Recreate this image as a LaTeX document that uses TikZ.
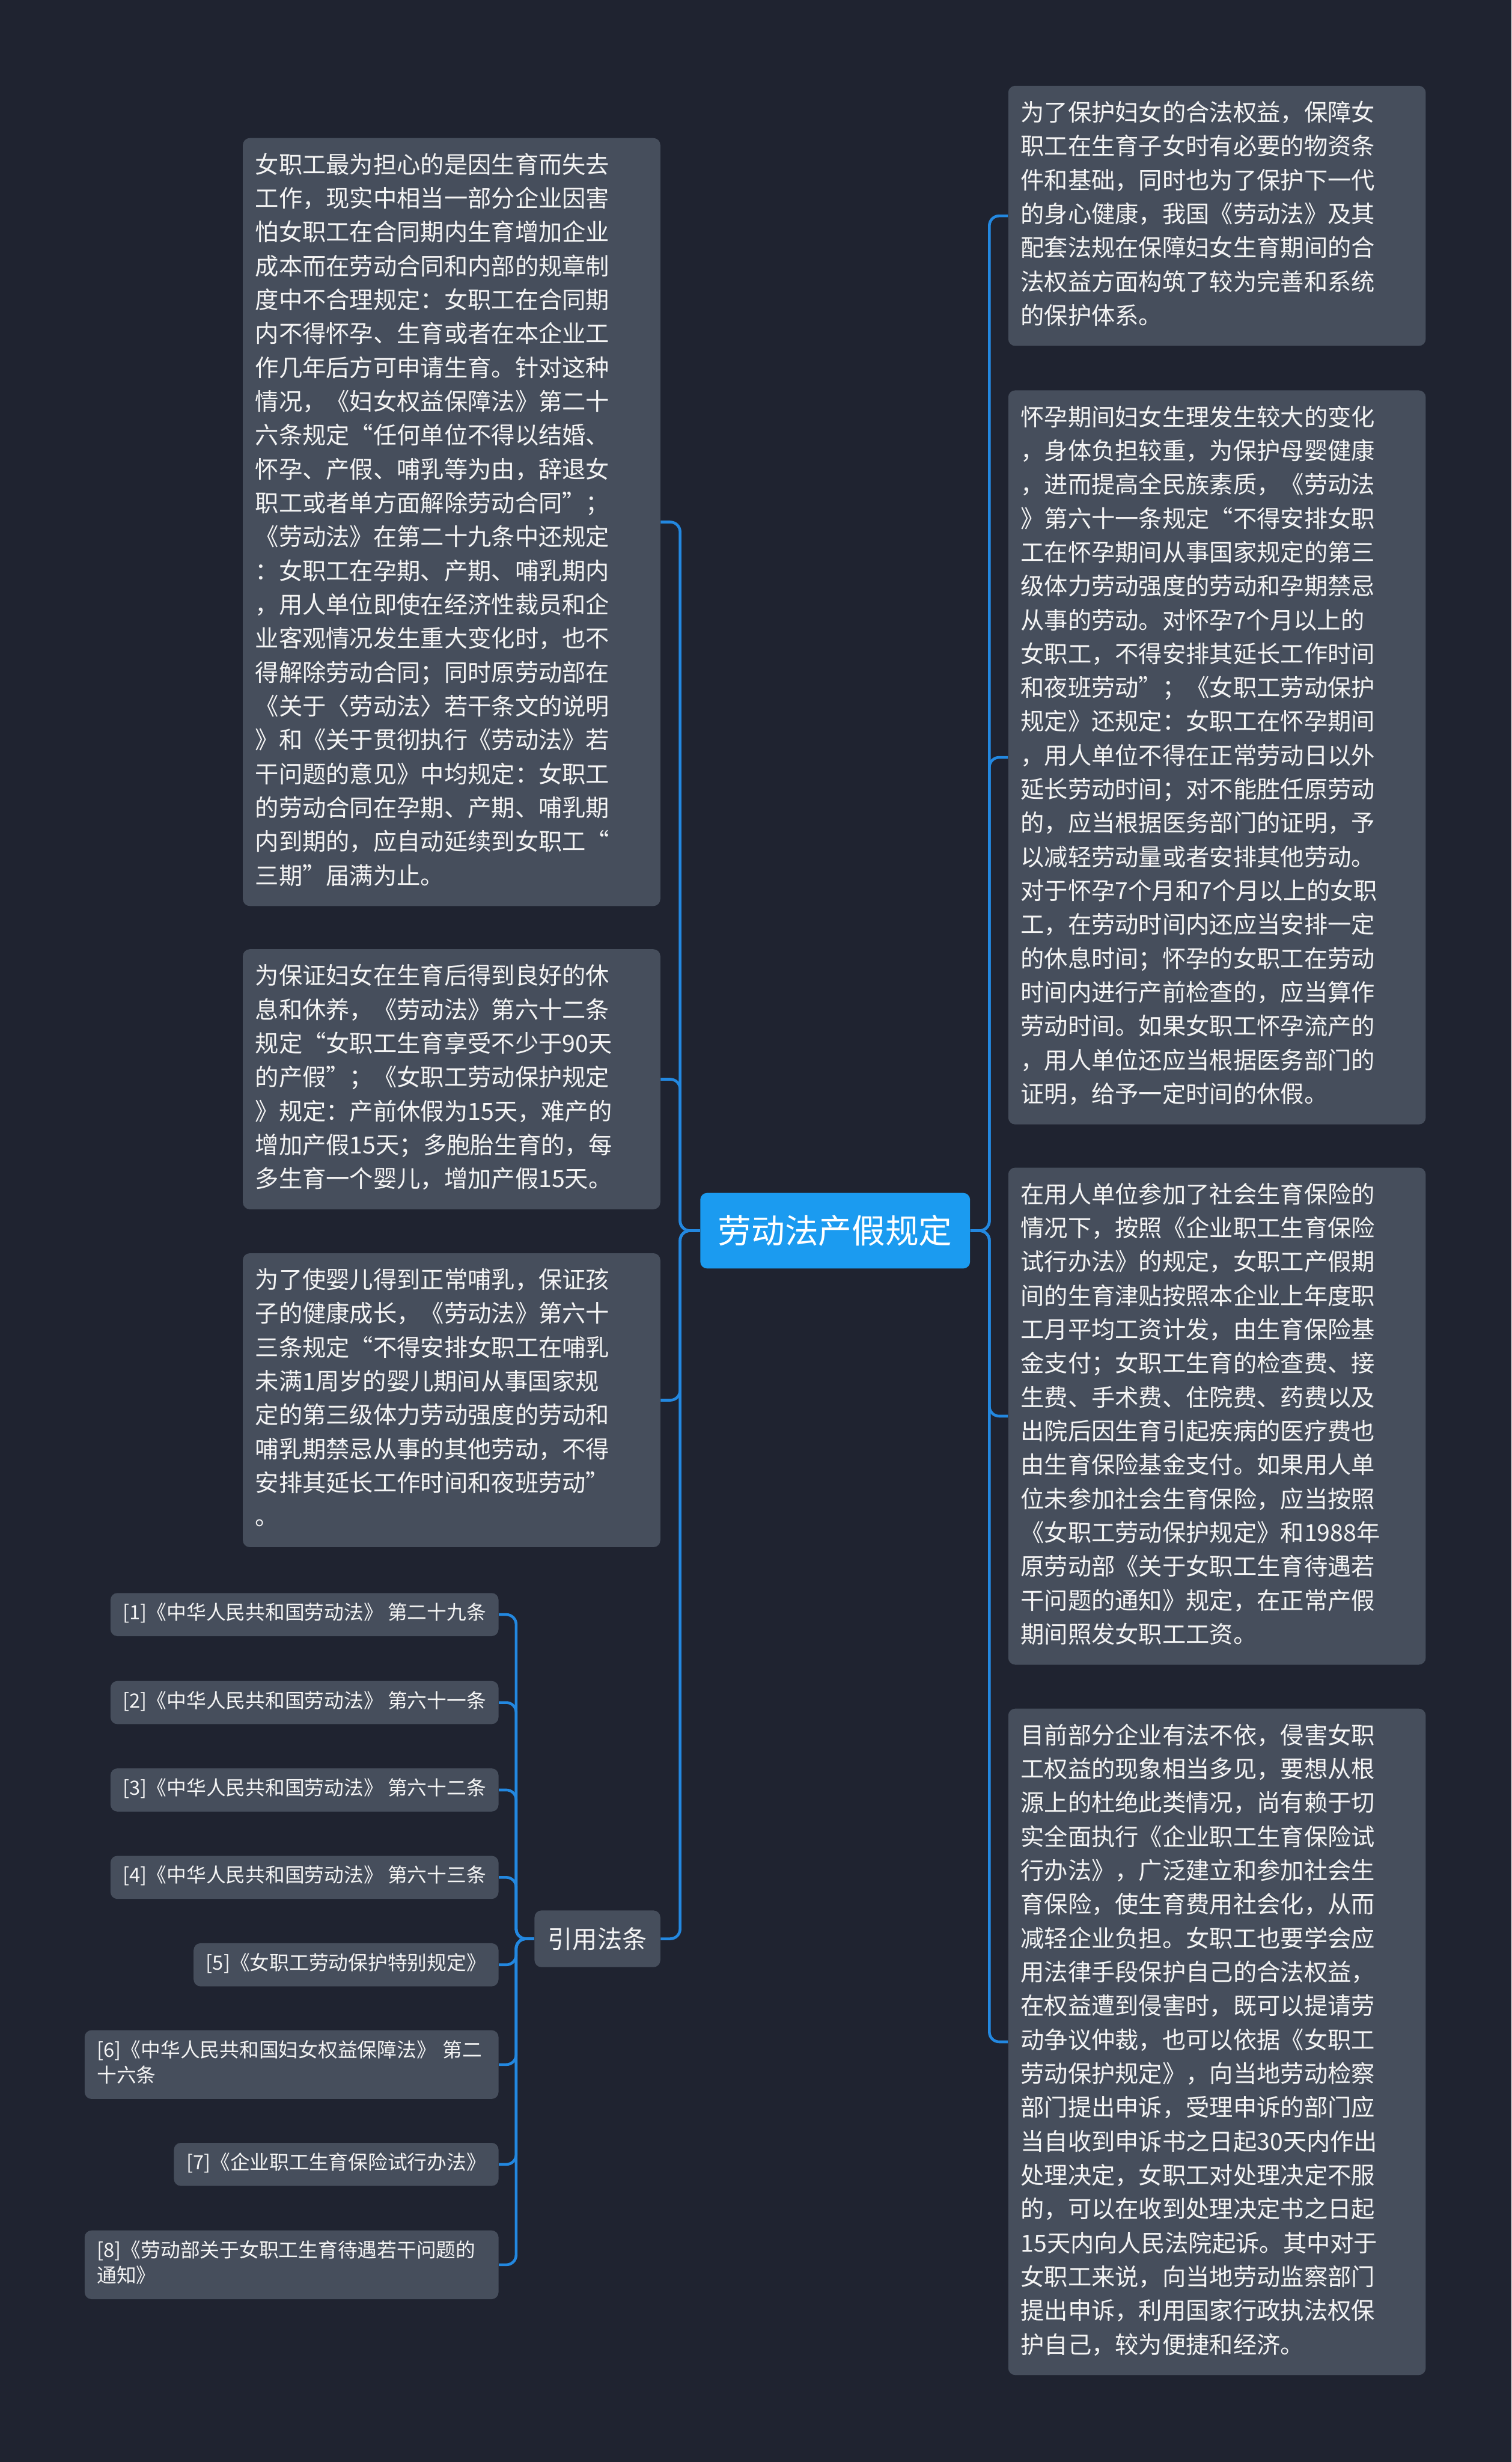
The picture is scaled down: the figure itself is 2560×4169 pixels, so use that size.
\documentclass[tikz,border=0pt]{standalone}
\usepackage{fontspec}
\setmainfont{Noto Sans CJK SC}
\definecolor{bgnavy}{HTML}{1F2330}
\definecolor{cardgray}{HTML}{464E5C}
\definecolor{linkblue}{HTML}{2388E0}
\definecolor{hubblue}{HTML}{1B9BF0}
\definecolor{inkwhite}{HTML}{F4F4F4}

\begin{document}
\begin{tikzpicture}[x=0.3pt, y=-0.3pt,
  card/.style={fill=cardgray, text=inkwhite, rounded corners=3.5pt,
    align=left, text width=199.5pt, inner xsep=6.3pt, inner ysep=5.85pt,
    font=\fontsize{12}{17.2}\selectfont,
    execute at begin node=\strut, execute at end node=\strut},
  hub/.style={fill=hubblue, text=white, rounded corners=3.5pt,
    minimum width=137.1pt, minimum height=38.4pt, inner sep=0pt,
    font=\fontsize{17}{20}\selectfont},
  headbox/.style={fill=cardgray, text=inkwhite, rounded corners=3.5pt,
    minimum width=63.9pt, minimum height=28.8pt, inner sep=0pt,
    font=\fontsize{12.6}{15}\selectfont},
  cite/.style={fill=cardgray, text=inkwhite, rounded corners=3.5pt,
    inner xsep=6.3pt, inner ysep=4.45pt, text height=9.1pt, text depth=3.9pt,
    font=\fontsize{10}{13}\selectfont, anchor=east},
  citewrap/.style={fill=cardgray, text=inkwhite, rounded corners=3.5pt,
    align=left, text width=197.7pt, inner xsep=6.3pt, inner ysep=4.45pt,
    font=\fontsize{10}{13}\selectfont, anchor=east,
    execute at begin node=\strut, execute at end node=\strut},
  wire/.style={draw=linkblue, line width=1.4pt, rounded corners=5pt}]

  \fill[bgnavy] (0,0) rectangle (2560,4169);

  \node[hub] (topic) at (1414.5,2084) {劳动法产假规定};

  % left side
  \node[card, anchor=east] (lfire) at (1119,884) {女职工最为担心的是因生育而失去\\
    工作，现实中相当一部分企业因害\\
    怕女职工在合同期内生育增加企业\\
    成本而在劳动合同和内部的规章制\\
    度中不合理规定：女职工在合同期\\
    内不得怀孕、生育或者在本企业工\\
    作几年后方可申请生育。针对这种\\
    情况，《妇女权益保障法》第二十\\
    六条规定“任何单位不得以结婚、\\
    怀孕、产假、哺乳等为由，辞退女\\
    职工或者单方面解除劳动合同”；\\
    《劳动法》在第二十九条中还规定\\
    ：女职工在孕期、产期、哺乳期内\\
    ，用人单位即使在经济性裁员和企\\
    业客观情况发生重大变化时，也不\\
    得解除劳动合同；同时原劳动部在\\
    《关于〈劳动法〉若干条文的说明\\
    》和《关于贯彻执行《劳动法》若\\
    干问题的意见》中均规定：女职工\\
    的劳动合同在孕期、产期、哺乳期\\
    内到期的，应自动延续到女职工“\\
    三期”届满为止。};
  \node[card, anchor=east] (lleave) at (1119,1827.5) {为保证妇女在生育后得到良好的休\\
    息和休养，《劳动法》第六十二条\\
    规定“女职工生育享受不少于90天\\
    的产假”；《女职工劳动保护规定\\
    》规定：产前休假为15天，难产的\\
    增加产假15天；多胞胎生育的，每\\
    多生育一个婴儿，增加产假15天。};
  \node[card, anchor=east] (lnurse) at (1119,2371) {为了使婴儿得到正常哺乳，保证孩\\
    子的健康成长，《劳动法》第六十\\
    三条规定“不得安排女职工在哺乳\\
    未满1周岁的婴儿期间从事国家规\\
    定的第三级体力劳动强度的劳动和\\
    哺乳期禁忌从事的其他劳动，不得\\
    安排其延长工作时间和夜班劳动”\\
    。};
  \node[headbox, anchor=east] (cites) at (1119,3283) {引用法条};

  \node[cite] (c1) at (845,2734) {[1]《中华人民共和国劳动法》 第二十九条};
  \node[cite] (c2) at (845,2883) {[2]《中华人民共和国劳动法》 第六十一条};
  \node[cite] (c3) at (845,3031) {[3]《中华人民共和国劳动法》 第六十二条};
  \node[cite] (c4) at (845,3179) {[4]《中华人民共和国劳动法》 第六十三条};
  \node[cite] (c5) at (845,3327) {[5]《女职工劳动保护特别规定》};
  \node[citewrap] (c6) at (845,3496) {[6]《中华人民共和国妇女权益保障法》 第二\\十六条};
  \node[cite] (c7) at (845,3665) {[7]《企业职工生育保险试行办法》};
  \node[citewrap] (c8) at (845,3835) {[8]《劳动部关于女职工生育待遇若干问题的\\通知》};

  % right side
  \node[card, anchor=west] (rprotect) at (1707,365.5) {为了保护妇女的合法权益，保障女\\
    职工在生育子女时有必要的物资条\\
    件和基础，同时也为了保护下一代\\
    的身心健康，我国《劳动法》及其\\
    配套法规在保障妇女生育期间的合\\
    法权益方面构筑了较为完善和系统\\
    的保护体系。};
  \node[card, anchor=west] (rpreg) at (1707,1282.5) {怀孕期间妇女生理发生较大的变化\\
    ，身体负担较重，为保护母婴健康\\
    ，进而提高全民族素质，《劳动法\\
    》第六十一条规定“不得安排女职\\
    工在怀孕期间从事国家规定的第三\\
    级体力劳动强度的劳动和孕期禁忌\\
    从事的劳动。对怀孕7个月以上的\\
    女职工，不得安排其延长工作时间\\
    和夜班劳动”；《女职工劳动保护\\
    规定》还规定：女职工在怀孕期间\\
    ，用人单位不得在正常劳动日以外\\
    延长劳动时间；对不能胜任原劳动\\
    的，应当根据医务部门的证明，予\\
    以减轻劳动量或者安排其他劳动。\\
    对于怀孕7个月和7个月以上的女职\\
    工，在劳动时间内还应当安排一定\\
    的休息时间；怀孕的女职工在劳动\\
    时间内进行产前检查的，应当算作\\
    劳动时间。如果女职工怀孕流产的\\
    ，用人单位还应当根据医务部门的\\
    证明，给予一定时间的休假。};
  \node[card, anchor=west] (rinsure) at (1707,2398) {在用人单位参加了社会生育保险的\\
    情况下，按照《企业职工生育保险\\
    试行办法》的规定，女职工产假期\\
    间的生育津贴按照本企业上年度职\\
    工月平均工资计发，由生育保险基\\
    金支付；女职工生育的检查费、接\\
    生费、手术费、住院费、药费以及\\
    出院后因生育引起疾病的医疗费也\\
    由生育保险基金支付。如果用人单\\
    位未参加社会生育保险，应当按照\\
    《女职工劳动保护规定》和1988年\\
    原劳动部《关于女职工生育待遇若\\
    干问题的通知》规定，在正常产假\\
    期间照发女职工工资。};
  \node[card, anchor=west] (rrights) at (1707,3457.5) {目前部分企业有法不依，侵害女职\\
    工权益的现象相当多见，要想从根\\
    源上的杜绝此类情况，尚有赖于切\\
    实全面执行《企业职工生育保险试\\
    行办法》，广泛建立和参加社会生\\
    育保险，使生育费用社会化，从而\\
    减轻企业负担。女职工也要学会应\\
    用法律手段保护自己的合法权益，\\
    在权益遭到侵害时，既可以提请劳\\
    动争议仲裁，也可以依据《女职工\\
    劳动保护规定》，向当地劳动检察\\
    部门提出申诉，受理申诉的部门应\\
    当自收到申诉书之日起30天内作出\\
    处理决定，女职工对处理决定不服\\
    的，可以在收到处理决定书之日起\\
    15天内向人民法院起诉。其中对于\\
    女职工来说，向当地劳动监察部门\\
    提出申诉，利用国家行政执法权保\\
    护自己，较为便捷和经济。};

  % connectors
  \draw[wire] (topic.west) -- ++(-33.5,0) |- (lfire.east);
  \draw[wire] (topic.west) -- ++(-33.5,0) |- (lleave.east);
  \draw[wire] (topic.west) -- ++(-33.5,0) |- (lnurse.east);
  \draw[wire] (topic.west) -- ++(-33.5,0) |- (cites.east);
  \draw[wire] (topic.east) -- ++(32,0) |- (rprotect.west);
  \draw[wire] (topic.east) -- ++(32,0) |- (rpreg.west);
  \draw[wire] (topic.east) -- ++(32,0) |- (rinsure.west);
  \draw[wire] (topic.east) -- ++(32,0) |- (rrights.west);
  \draw[wire] (cites.west) -- ++(-30.5,0) |- (c1.east);
  \draw[wire] (cites.west) -- ++(-30.5,0) |- (c2.east);
  \draw[wire] (cites.west) -- ++(-30.5,0) |- (c3.east);
  \draw[wire] (cites.west) -- ++(-30.5,0) |- (c4.east);
  \draw[wire] (cites.west) -- ++(-30.5,0) |- (c5.east);
  \draw[wire] (cites.west) -- ++(-30.5,0) |- (c6.east);
  \draw[wire] (cites.west) -- ++(-30.5,0) |- (c7.east);
  \draw[wire] (cites.west) -- ++(-30.5,0) |- (c8.east);
\end{tikzpicture}
\end{document}
